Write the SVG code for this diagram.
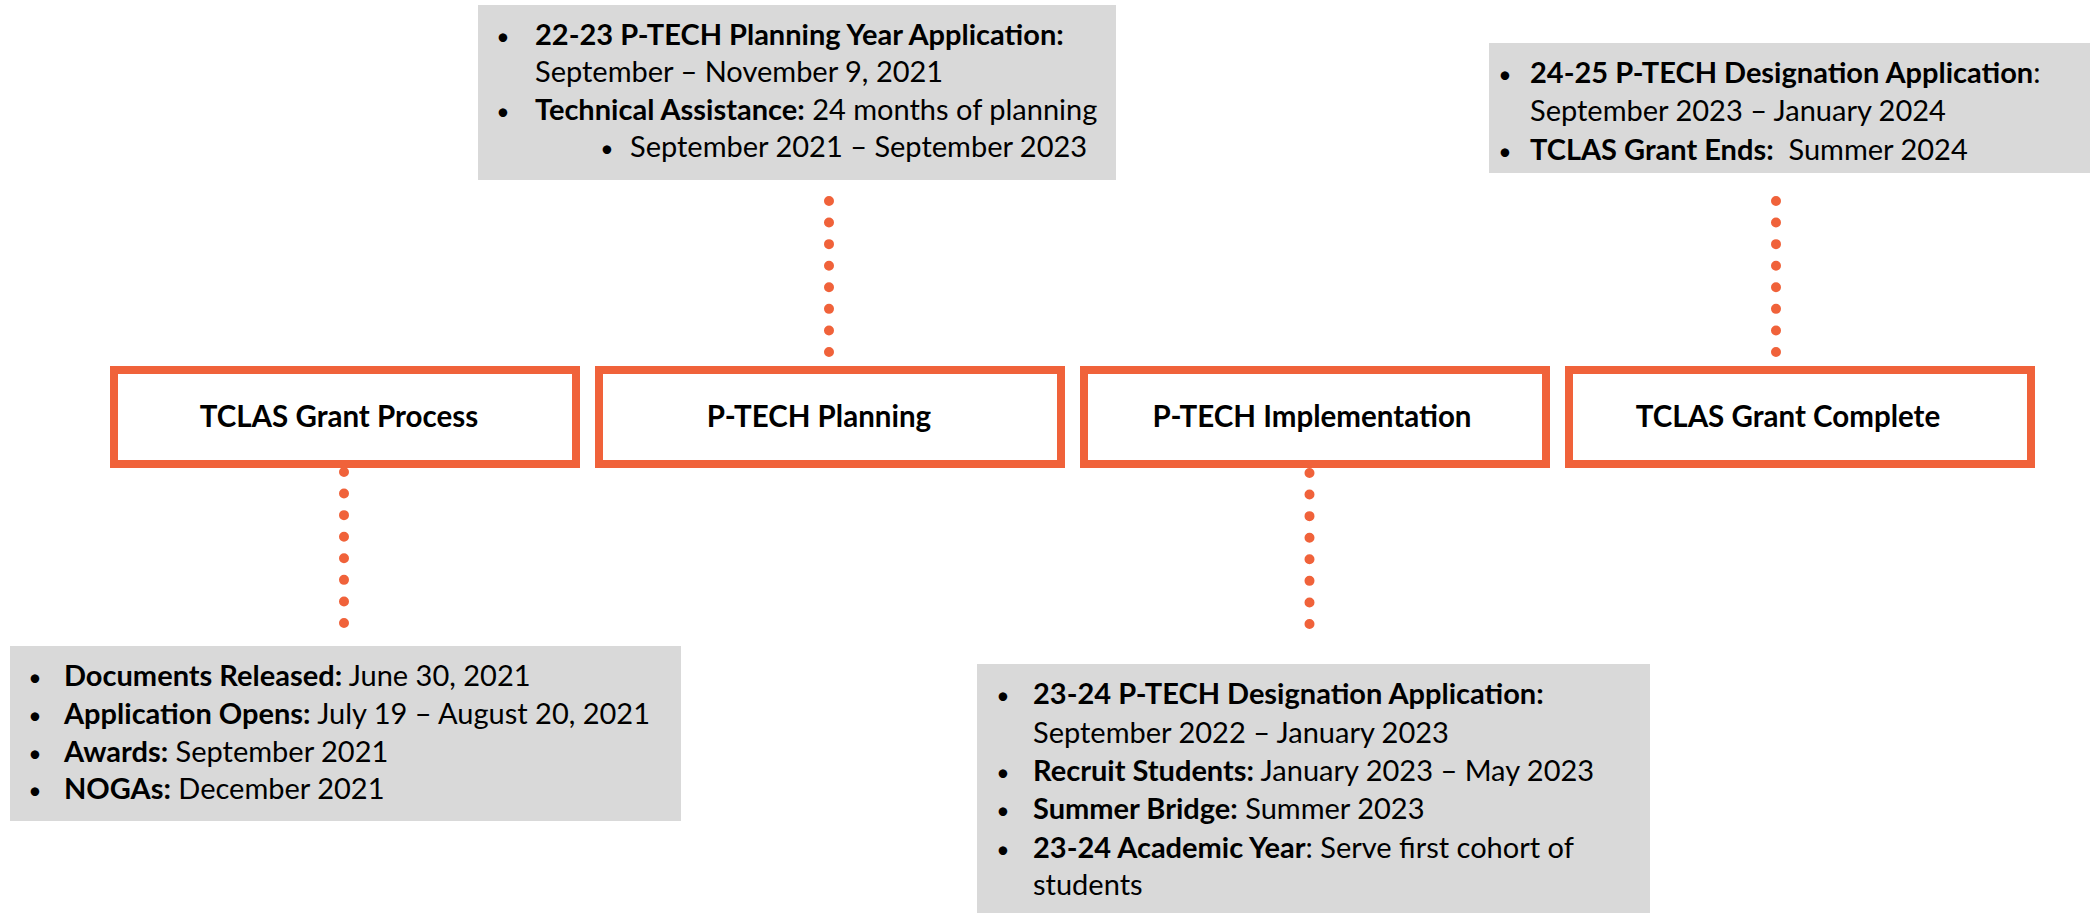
<svg xmlns="http://www.w3.org/2000/svg" width="2090" height="913" viewBox="0 0 2090 913">
<style>
.bg{fill:#ffffff}
.note{fill:#D9D9D9}
.node{fill:#ffffff;stroke:#F0623A;stroke-width:8}
.lbl{font-family:Lato,"Liberation Sans",sans-serif;font-weight:bold;font-size:29.5px;fill:#000;text-anchor:middle}
.t{font-family:Lato,"Liberation Sans",sans-serif;font-size:29px;fill:#000}
.b{font-weight:bold}
.bul{font-family:Lato,"Liberation Sans",sans-serif;font-size:23px;fill:#000;text-anchor:middle}
.dots{stroke:#F0623A;stroke-width:10;stroke-linecap:round;stroke-dasharray:0 21.57;fill:none}
</style>
<rect class="bg" x="0" y="0" width="2090" height="913"/>

<g id="connectors">
<line class="dots" x1="344" y1="472" x2="344" y2="623.5"/>
<line class="dots" x1="829" y1="201" x2="829" y2="352.5"/>
<line class="dots" x1="1309.5" y1="473" x2="1309.5" y2="624.5"/>
<line class="dots" x1="1776" y1="201" x2="1776" y2="352.5"/>
</g>

<g id="node-tclas-grant-process">
<rect class="node" x="114" y="370" width="462" height="94"/>
<text class="lbl" x="339" y="427">TCLAS Grant Process</text>
</g>
<g id="node-ptech-planning">
<rect class="node" x="599" y="370" width="462" height="94"/>
<text class="lbl" x="819" y="427">P-TECH Planning</text>
</g>
<g id="node-ptech-implementation">
<rect class="node" x="1084" y="370" width="462" height="94"/>
<text class="lbl" x="1312" y="427">P-TECH Implementation</text>
</g>
<g id="node-tclas-grant-complete">
<rect class="node" x="1569" y="370" width="462" height="94"/>
<text class="lbl" x="1788" y="427">TCLAS Grant Complete</text>
</g>

<g id="note-planning">
<rect class="note" x="478" y="5" width="638" height="175"/>
<text class="bul" x="503" y="45">•</text>
<text class="t" x="535" y="45"><tspan class="b">22-23 P-TECH Planning Year Application:</tspan></text>
<text class="t" x="535" y="82">September – November 9, 2021</text>
<text class="bul" x="503" y="120">•</text>
<text class="t" x="535" y="120"><tspan class="b">Technical Assistance:</tspan> 24 months of planning</text>
<text class="bul" x="607" y="157">•</text>
<text class="t" x="630" y="157">September 2021 – September 2023</text>
</g>

<g id="note-complete">
<rect class="note" x="1489" y="43" width="601" height="130"/>
<text class="bul" x="1505" y="83">•</text>
<text class="t" x="1530" y="83"><tspan class="b">24-25 P-TECH Designation Application</tspan>:</text>
<text class="t" x="1530" y="121">September 2023 – January 2024</text>
<text class="bul" x="1505" y="160">•</text>
<text class="t" x="1530" y="160"><tspan class="b">TCLAS Grant Ends:</tspan>&#160; Summer 2024</text>
</g>

<g id="note-grant-process">
<rect class="note" x="10" y="646" width="671" height="175"/>
<text class="bul" x="35" y="686">•</text>
<text class="t" x="64" y="686"><tspan class="b">Documents Released:</tspan> June 30, 2021</text>
<text class="bul" x="35" y="724">•</text>
<text class="t" x="64" y="724"><tspan class="b">Application Opens:</tspan> July 19 – August 20, 2021</text>
<text class="bul" x="35" y="762">•</text>
<text class="t" x="64" y="762"><tspan class="b">Awards:</tspan> September 2021</text>
<text class="bul" x="35" y="799">•</text>
<text class="t" x="64" y="799"><tspan class="b">NOGAs:</tspan> December 2021</text>
</g>

<g id="note-implementation">
<rect class="note" x="977" y="664" width="673" height="249"/>
<text class="bul" x="1003" y="704">•</text>
<text class="t" x="1033" y="704"><tspan class="b">23-24 P-TECH Designation Application:</tspan></text>
<text class="t" x="1033" y="742.5">September 2022 – January 2023</text>
<text class="bul" x="1003" y="780.5">•</text>
<text class="t" x="1033" y="780.5"><tspan class="b">Recruit Students:</tspan> January 2023 – May 2023</text>
<text class="bul" x="1003" y="818.5">•</text>
<text class="t" x="1033" y="818.5"><tspan class="b">Summer Bridge:</tspan> Summer 2023</text>
<text class="bul" x="1003" y="858">•</text>
<text class="t" x="1033" y="858"><tspan class="b">23-24 Academic Year</tspan>: Serve first cohort of</text>
<text class="t" x="1033" y="895">students</text>
</g>
</svg>
